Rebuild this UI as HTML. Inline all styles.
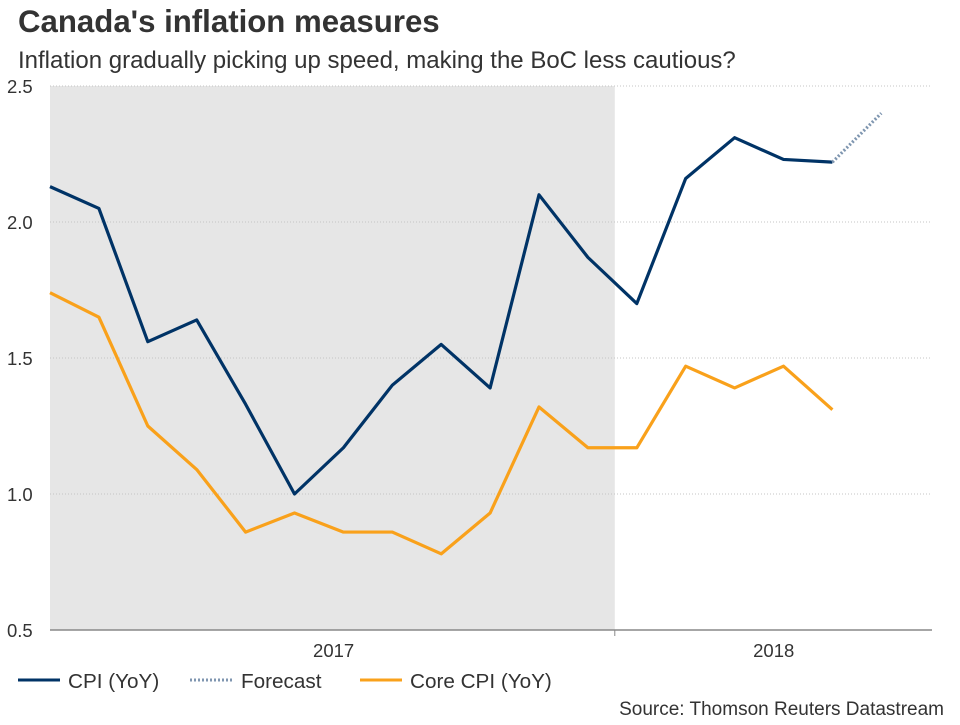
<!DOCTYPE html>
<html><head><meta charset="utf-8">
<style>
body{margin:0;background:#fff;font-family:"Liberation Sans",sans-serif;}
svg text{font-family:"Liberation Sans",sans-serif;}
</style></head>
<body>
<svg width="960" height="720" viewBox="0 0 960 720">
<text x="18" y="32" font-size="31.2" font-weight="bold" fill="#333">Canada's inflation measures</text>
<text x="18" y="68" font-size="24" fill="#333">Inflation gradually picking up speed, making the BoC less cautious?</text>
<g id="plot"></g>
<g>
<line x1="18" y1="680" x2="60" y2="680" stroke="#003366" stroke-width="3"/>
<text x="68" y="688" font-size="20.7" fill="#333">CPI (YoY)</text>
<line x1="190" y1="680" x2="232" y2="680" stroke="#7f96b0" stroke-width="3" stroke-dasharray="2,2"/>
<text x="241" y="688" font-size="20.7" fill="#333">Forecast</text>
<line x1="360" y1="680" x2="402" y2="680" stroke="#f9a11b" stroke-width="3"/>
<text x="410" y="688" font-size="20.7" fill="#333">Core CPI (YoY)</text>
</g>
<text x="944" y="715" font-size="19" fill="#333" text-anchor="end">Source: Thomson Reuters Datastream</text>
</svg>
<script>
const cpi=[2.13,2.05,1.56,1.64,1.33,1.0,1.17,1.4,1.55,1.39,2.1,1.87,1.7,2.16,2.31,2.23,2.22];
const core=[1.74,1.65,1.25,1.09,0.86,0.93,0.86,0.86,0.78,0.93,1.32,1.17,1.17,1.47,1.39,1.47,1.31];
const forecast=[2.22,2.40];
const yTicks=[0.5,1.0,1.5,2.0,2.5];
const yearLabels=["2017","2018"];
const yearPos=[5.8,14.8];
const shadeEnd=11.55;
const NS="http://www.w3.org/2000/svg";
const g=document.getElementById('plot');
const L=50,R=932,T=86,B=630;
const x=i=>L+i*48.9;
const y=v=>B-(v-0.5)/2*(B-T);
function el(t,a){const e=document.createElementNS(NS,t);for(const k in a)e.setAttribute(k,a[k]);g.appendChild(e);return e;}
let s=el('rect',{x:L,y:T,width:x(shadeEnd)-L,height:B-T,fill:'#e6e6e6'});


yTicks.forEach(v=>{
 let l=el('line',{x1:L,x2:R,y1:y(v),y2:y(v),stroke:'#c4c4c4','stroke-dasharray':'1,2'});
 
 
 let t=el('text',{x:7,y:y(v)+7,'font-size':18.5,fill:'#333'});t.textContent=v.toFixed(1);
 
 
});
let ax=el('line',{x1:L,x2:R,y1:B,y2:B,stroke:'#888','stroke-width':1.5});


let tk=el('line',{x1:x(shadeEnd),x2:x(shadeEnd),y1:B,y2:B+6,stroke:'#888'});


yearLabels.forEach((lab,i)=>{
 let t=el('text',{x:x(yearPos[i]),y:B+27,'font-size':18.5,fill:'#333','text-anchor':'middle'});t.textContent=lab;
 
 
});
function line(data,off,color,dash,name){
 const p=data.map((v,i)=>x(i+off)+','+y(v)).join(' ');
 const e=el('polyline',{points:p,fill:'none',stroke:color,'stroke-width':3.2,'stroke-linejoin':'round'});
 if(dash)e.setAttribute('stroke-dasharray',dash);
 
 
}
line(core,0,'#f9a11b',null,'core-cpi-line');
line(cpi,0,'#003366',null,'cpi-line');
line(forecast,16,'#7f96b0','2,2','forecast-line');
</script>
</body></html>
